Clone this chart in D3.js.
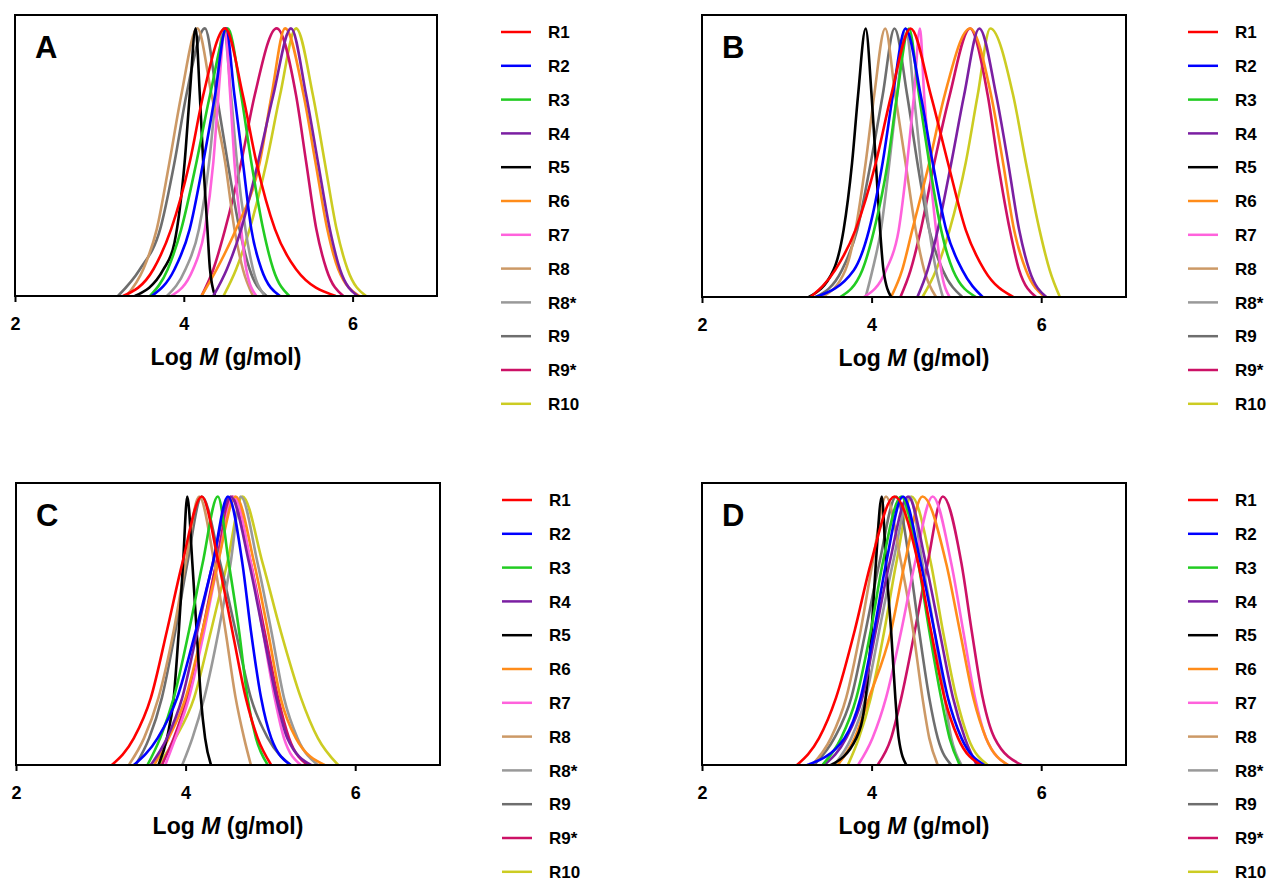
<!DOCTYPE html>
<html lang="en">
<head>
<meta charset="UTF-8">
<title>Log M distributions</title>
<script src="https://d3js.org/d3.v7.min.js"></script>
<style>
    body { margin: 0; background: #fff; }
    svg { font-family: "Liberation Sans", Arial, sans-serif; font-weight: bold; }
    .frame { fill: none; stroke: #000; stroke-width: 2px; }
    .axis path { display: none; }
    .axis line { stroke: #000; stroke-width: 2px; }
    .axis text { font-size: 18px; font-weight: bold; fill: #000; font-family: "Liberation Sans", Arial, sans-serif; }
    .curve { fill: none; stroke-width: 2.6px; stroke-linejoin: round; }
    .legend text { font-size: 17px; fill: #000; }
</style>
</head>
<body>
<div id="chart"></div>
<script>
// series names and colours
var series = ["R1", "R2", "R3", "R4", "R5", "R6", "R7", "R8", "R8*", "R9", "R9*", "R10"];
var seriesColors = ["#ff0000", "#0000ff", "#22cc22", "#7b1fa2", "#000000", "#ff8c1a",
                    "#ff62dc", "#cc9966", "#999999", "#6e6e6e", "#cc1166", "#cccc22"];
var xTicks = [2, 4, 6];

// [log M, normalised height], one list per series (same order as `series`)
var curvesA = [
    [[3.28,0],[3.64,.1],[3.85,.25],[4.07,.5],[4.23,.75],[4.49,1],[4.70,.75],[4.86,.5],[5.08,.25],[5.33,.1],[5.80,0]],
    [[3.62,0],[3.89,.1],[4.07,.25],[4.23,.5],[4.37,.75],[4.50,1],[4.60,.75],[4.70,.5],[4.80,.25],[4.92,.1],[5.14,0]],
    [[3.60,0],[3.81,.1],[3.97,.25],[4.15,.5],[4.31,.75],[4.52,1],[4.68,.75],[4.80,.5],[4.94,.25],[5.06,.1],[5.25,0]],
    [[4.35,0],[4.51,.1],[4.68,.25],[4.88,.5],[5.06,.75],[5.27,1],[5.45,.75],[5.59,.5],[5.73,.25],[5.85,.1],[6.06,0]],
    [[3.42,0],[3.76,.1],[3.89,.2],[4.01,.5],[4.07,.75],[4.14,1],[4.19,.75],[4.23,.5],[4.28,.25],[4.31,.1],[4.37,0]],
    [[4.21,0],[4.39,.1],[4.62,.25],[4.90,.5],[5.04,.75],[5.20,1],[5.42,.75],[5.56,.5],[5.70,.25],[5.83,.1],[6.08,0]],
    [[3.85,0],[4.11,.1],[4.25,.25],[4.35,.5],[4.41,.75],[4.49,1],[4.55,.75],[4.60,.5],[4.68,.25],[4.74,.1],[4.86,0]],
    [[3.32,0],[3.52,.1],[3.68,.25],[3.83,.5],[3.97,.75],[4.16,1],[4.33,.75],[4.49,.5],[4.60,.25],[4.70,.1],[4.82,0]],
    [[3.80,0],[4.02,.1],[4.18,.25],[4.30,.5],[4.38,.75],[4.47,1],[4.56,.75],[4.63,.5],[4.73,.25],[4.82,.1],[4.96,0]],
    [[3.22,0],[3.48,.1],[3.72,.25],[3.89,.5],[4.03,.75],[4.25,1],[4.39,.75],[4.52,.5],[4.66,.25],[4.78,.1],[4.98,0]],
    [[4.21,0],[4.35,.1],[4.49,.25],[4.68,.5],[4.84,.75],[5.10,1],[5.33,.75],[5.45,.5],[5.57,.25],[5.69,.1],[5.89,0]],
    [[4.47,0],[4.62,.1],[4.78,.25],[4.98,.5],[5.14,.75],[5.33,1],[5.53,.75],[5.67,.5],[5.81,.25],[5.94,.1],[6.16,0]]
];
var curvesB = [
    [[3.28,0],[3.57,.1],[3.81,.25],[4.05,.5],[4.23,.75],[4.46,1],[4.70,.75],[4.90,.5],[5.11,.25],[5.33,.1],[5.67,0]],
    [[3.34,0],[3.79,.1],[3.97,.25],[4.13,.5],[4.25,.75],[4.40,1],[4.58,.75],[4.72,.5],[4.88,.25],[5.07,.1],[5.31,0]],
    [[3.63,0],[3.89,.1],[4.03,.25],[4.19,.5],[4.30,.75],[4.44,1],[4.56,.75],[4.68,.5],[4.82,.25],[4.96,.1],[5.23,0]],
    [[4.54,0],[4.66,.1],[4.78,.25],[4.94,.5],[5.09,.75],[5.27,1],[5.47,.75],[5.61,.5],[5.74,.25],[5.86,.1],[6.06,0]],
    [[3.26,0],[3.55,.1],[3.67,.25],[3.77,.5],[3.84,.75],[3.93,1],[4.00,.75],[4.05,.5],[4.10,.25],[4.14,.1],[4.23,0]],
    [[4.23,0],[4.36,.1],[4.48,.25],[4.68,.5],[4.86,.75],[5.16,1],[5.41,.75],[5.55,.5],[5.68,.25],[5.82,.1],[6.04,0]],
    [[3.91,0],[4.17,.1],[4.32,.25],[4.42,.5],[4.50,.75],[4.57,1],[4.62,.75],[4.68,.5],[4.76,.25],[4.82,.1],[4.92,0]],
    [[3.42,0],[3.69,.1],[3.81,.25],[3.93,.5],[4.03,.75],[4.16,1],[4.28,.75],[4.40,.5],[4.52,.25],[4.62,.1],[4.76,0]],
    [[3.93,0],[4.01,.1],[4.11,.25],[4.21,.5],[4.30,.75],[4.40,1],[4.50,.75],[4.58,.5],[4.68,.25],[4.76,.1],[4.84,0]],
    [[3.34,0],[3.65,.1],[3.83,.25],[3.99,.5],[4.13,.75],[4.27,1],[4.42,.75],[4.54,.5],[4.68,.25],[4.84,.1],[5.07,0]],
    [[4.34,0],[4.46,.1],[4.58,.25],[4.74,.5],[4.92,.75],[5.16,1],[5.37,.75],[5.49,.5],[5.63,.25],[5.74,.1],[5.94,0]],
    [[4.60,0],[4.76,.1],[4.92,.25],[5.11,.5],[5.25,.75],[5.40,1],[5.67,.75],[5.82,.5],[5.98,.25],[6.10,.1],[6.22,0]]
];
var curvesC = [
    [[3.13,0],[3.39,.1],[3.59,.25],[3.78,.5],[3.96,.75],[4.19,1],[4.39,.75],[4.55,.5],[4.71,.25],[4.85,.1],[5.01,0]],
    [[3.39,0],[3.67,.1],[3.90,.25],[4.12,.5],[4.32,.75],[4.50,1],[4.67,.75],[4.77,.5],[4.89,.25],[5.01,.1],[5.24,0]],
    [[3.55,0],[3.70,.1],[3.86,.25],[4.04,.5],[4.20,.75],[4.38,1],[4.51,.75],[4.63,.5],[4.73,.25],[4.83,.1],[4.97,0]],
    [[3.59,0],[3.78,.1],[3.96,.25],[4.14,.5],[4.32,.75],[4.53,1],[4.75,.75],[4.91,.5],[5.07,.25],[5.20,.1],[5.48,0]],
    [[3.68,0],[3.78,.1],[3.86,.25],[3.92,.5],[3.97,.75],[4.02,1],[4.08,.75],[4.13,.5],[4.18,.25],[4.23,.1],[4.30,0]],
    [[3.63,0],[3.80,.1],[4.00,.25],[4.20,.5],[4.38,.75],[4.59,1],[4.81,.75],[4.97,.5],[5.12,.25],[5.30,.1],[5.64,0]],
    [[3.76,0],[3.88,.1],[4.04,.25],[4.22,.5],[4.38,.75],[4.57,1],[4.77,.75],[4.91,.5],[5.05,.25],[5.16,.1],[5.36,0]],
    [[3.33,0],[3.51,.1],[3.68,.25],[3.86,.5],[4.00,.75],[4.16,1],[4.34,.75],[4.47,.5],[4.59,.25],[4.69,.1],[4.77,0]],
    [[3.96,0],[4.08,.1],[4.22,.25],[4.39,.5],[4.53,.75],[4.65,1],[4.85,.75],[5.01,.5],[5.16,.25],[5.32,.1],[5.56,0]],
    [[3.41,0],[3.57,.1],[3.72,.25],[3.88,.5],[4.02,.75],[4.19,1],[4.41,.75],[4.59,.5],[4.77,.25],[4.97,.1],[5.24,0]],
    [[3.72,0],[3.86,.1],[4.02,.25],[4.20,.5],[4.36,.75],[4.55,1],[4.77,.75],[4.93,.5],[5.09,.25],[5.22,.1],[5.44,0]],
    [[3.68,0],[3.88,.1],[4.10,.25],[4.30,.5],[4.49,.75],[4.67,1],[4.91,.75],[5.12,.5],[5.36,.25],[5.56,.1],[5.80,0]]
];
var curvesD = [
    [[3.12,0],[3.38,.1],[3.58,.25],[3.80,.5],[3.99,.75],[4.27,1],[4.55,.75],[4.70,.5],[4.86,.25],[5.02,.1],[5.29,0]],
    [[3.24,0],[3.68,.1],[3.87,.25],[4.03,.5],[4.17,.75],[4.37,1],[4.58,.75],[4.74,.5],[4.90,.25],[5.06,.1],[5.33,0]],
    [[3.42,0],[3.64,.1],[3.82,.25],[3.99,.5],[4.13,.75],[4.35,1],[4.55,.75],[4.68,.5],[4.82,.25],[4.92,.1],[5.04,0]],
    [[3.44,0],[3.70,.1],[3.89,.25],[4.05,.5],[4.21,.75],[4.43,1],[4.64,.75],[4.80,.5],[4.96,.25],[5.10,.1],[5.24,0]],
    [[3.52,0],[3.82,.1],[3.93,.25],[4.00,.5],[4.05,.75],[4.12,1],[4.17,.75],[4.23,.5],[4.28,.25],[4.32,.1],[4.41,0]],
    [[3.60,0],[3.80,.1],[3.97,.25],[4.23,.5],[4.39,.75],[4.60,1],[4.88,.75],[5.04,.5],[5.20,.25],[5.35,.1],[5.61,0]],
    [[3.84,0],[4.01,.1],[4.17,.25],[4.35,.5],[4.51,.75],[4.72,1],[4.94,.75],[5.08,.5],[5.22,.25],[5.35,.1],[5.61,0]],
    [[3.30,0],[3.52,.1],[3.70,.25],[3.87,.5],[4.01,.75],[4.17,1],[4.35,.75],[4.49,.5],[4.60,.25],[4.68,.1],[4.78,0]],
    [[3.56,0],[3.76,.1],[3.93,.25],[4.09,.5],[4.25,.75],[4.45,1],[4.60,.75],[4.74,.5],[4.86,.25],[4.94,.1],[5.06,0]],
    [[3.32,0],[3.56,.1],[3.76,.25],[3.93,.5],[4.09,.75],[4.29,1],[4.45,.75],[4.56,.5],[4.68,.25],[4.78,.1],[4.94,0]],
    [[4.07,0],[4.23,.1],[4.35,.25],[4.51,.5],[4.66,.75],[4.84,1],[5.06,.75],[5.18,.5],[5.31,.25],[5.45,.1],[5.77,0]],
    [[3.72,0],[3.85,.1],[3.99,.25],[4.15,.5],[4.29,.75],[4.47,1],[4.70,.75],[4.84,.5],[5.00,.25],[5.14,.1],[5.37,0]]
];

// panel layout (pixels)
var panels = [
    { letter: "A", data: curvesA, left: 15,  top: 15,  width: 422, height: 281 },
    { letter: "B", data: curvesB, left: 702, top: 15,  width: 424, height: 282 },
    { letter: "C", data: curvesC, left: 16,  top: 483, width: 424, height: 282 },
    { letter: "D", data: curvesD, left: 702, top: 483, width: 424, height: 282 }
];

var color = d3.scaleOrdinal().domain(series).range(seriesColors);

var svg = d3.select("#chart")
    .append("svg")
    .attr("width", 1271)
    .attr("height", 881);

panels.forEach(function (p) {
    var g = svg.append("g")
        .attr("transform", "translate(" + p.left + "," + p.top + ")");

    var x = d3.scaleLinear().domain([2, 7]).range([0, p.width]);
    var y = d3.scaleLinear().domain([0, 1.05]).range([p.height, 0]);

    var line = d3.line()
        .x(function (d) { return x(d[0]); })
        .y(function (d) { return y(d[1]); })
        .curve(d3.curveMonotoneX);

    g.append("clipPath").attr("id", "clip" + p.letter)
        .append("rect").attr("width", p.width).attr("height", p.height);

    // draw R10 first so R1 ends up on top
    var rows = series.map(function (name, i) { return { name: name, values: p.data[i] }; });
    g.append("g")
        .attr("clip-path", "url(#clip" + p.letter + ")")
        .selectAll("path")
        .data(rows.slice().reverse())
        .enter()
        .append("path")
        .attr("class", "curve")
        .attr("stroke", function (d) { return color(d.name); })
        .attr("d", function (d) { return line(d.values); });

    g.append("rect")
        .attr("class", "frame")
        .attr("width", p.width)
        .attr("height", p.height);

    g.append("g")
        .attr("class", "axis")
        .attr("transform", "translate(0," + p.height + ")")
        .call(d3.axisBottom(x).tickValues(xTicks).tickSize(6).tickPadding(15).tickFormat(d3.format("d")));

    var title = g.append("text")
        .attr("x", p.width / 2)
        .attr("y", p.height + 69)
        .attr("text-anchor", "middle")
        .style("font-size", "23px");
    title.append("tspan").text("Log ");
    title.append("tspan").style("font-style", "italic").text("M");
    title.append("tspan").text(" (g/mol)");

    g.append("text")
        .attr("x", 20)
        .attr("y", 43)
        .style("font-size", "31px")
        .text(p.letter);

    var legend = g.selectAll(".legend")
        .data(series)
        .enter()
        .append("g")
        .attr("class", "legend")
        .attr("transform", function (d, i) { return "translate(486," + (17 + i * 33.8) + ")"; });

    legend.append("line")
        .attr("x1", 0)
        .attr("x2", 30)
        .attr("stroke-width", 2.5)
        .attr("stroke", function (d) { return color(d); });

    legend.append("text")
        .attr("x", 47)
        .attr("dy", "0.36em")
        .text(function (d) { return d; });
});
</script>
</body>
</html>
